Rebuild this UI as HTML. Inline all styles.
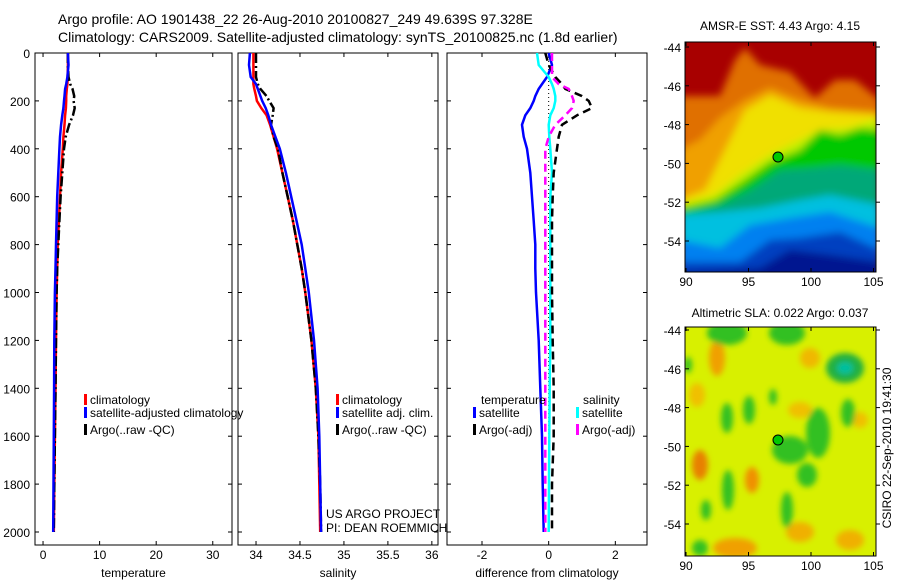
<!DOCTYPE html>
<html><head><meta charset="utf-8">
<style>
body{margin:0;background:#fff;}
svg{display:block;font-family:"Liberation Sans",sans-serif;}
text{fill:#000;}
</style></head>
<body>
<svg id="c" width="900" height="580" viewBox="0 0 900 580">
<defs>
<filter id="bl" x="-10%" y="-10%" width="120%" height="120%"><feGaussianBlur stdDeviation="4"/></filter>
<filter id="bl2" x="-30%" y="-30%" width="160%" height="160%"><feGaussianBlur stdDeviation="3"/></filter>
<clipPath id="m1"><rect x="685" y="42" width="191" height="230"/></clipPath>
<clipPath id="m2"><rect x="685" y="327" width="191" height="229"/></clipPath>
</defs>
<text x="58" y="24" font-size="14">Argo profile: AO 1901438_22 26-Aug-2010 20100827_249 49.639S 97.328E</text>
<text x="58" y="42" font-size="14">Climatology: CARS2009. Satellite-adjusted climatology: synTS_20100825.nc (1.8d earlier)</text>

<!-- SST map -->
<g clip-path="url(#m1)">
<rect x="685" y="42" width="191" height="230" fill="#a80000"/>
<g filter="url(#bl)">
<polygon fill="#e07000" points="680,96 720,96 735,60 745,48 760,65 790,72 805,88 815,98 835,80 855,80 880,100 880,300 680,300"/>
<polygon fill="#f0a000" points="680,150 700,140 720,118 745,100 770,88 800,100 830,108 880,112 880,300 680,300"/>
<polygon fill="#f0e000" points="680,200 705,190 725,150 745,110 770,95 800,108 830,112 880,115 880,300 680,300"/>
<polygon fill="#c0f000" points="680,205 715,195 740,175 770,155 800,140 820,130 850,128 880,118 880,300 680,300"/>
<polygon fill="#00c800" points="680,208 715,200 745,180 770,162 800,150 820,130 840,135 860,128 880,130 880,300 680,300"/>
<polygon fill="#00a878" points="680,215 720,205 750,190 780,170 810,168 840,165 880,170 880,300 680,300"/>
<polygon fill="#00c0e0" points="680,215 720,212 760,208 800,200 830,195 880,205 880,300 680,300"/>
<polygon fill="#0080f0" points="680,240 720,248 750,225 790,218 830,212 880,228 880,300 680,300"/>
<polygon fill="#0040c0" points="680,262 740,262 770,240 800,238 840,232 880,250 880,300 680,300"/>
<polygon fill="#001890" points="680,272 760,268 790,250 830,255 880,262 880,300 680,300"/>
</g>
</g>
<rect x="685" y="42" width="191" height="230" fill="none" stroke="#000"/>
<circle cx="778" cy="157" r="5" fill="#00c800" stroke="#000"/>
<text x="780" y="30" font-size="12" text-anchor="middle">AMSR-E SST: 4.43 Argo: 4.15</text>

<!-- SLA map -->
<g clip-path="url(#m2)">
<rect x="685" y="327" width="191" height="229" fill="#d8f000"/>
<g filter="url(#bl2)">
<ellipse cx="717" cy="358" rx="8" ry="18" fill="#f0a000"/>
<ellipse cx="700" cy="465" rx="8" ry="15" fill="#e88000"/>
<ellipse cx="752" cy="480" rx="7" ry="13" fill="#f09000"/>
<ellipse cx="735" cy="548" rx="22" ry="10" fill="#f0a000"/>
<ellipse cx="810" cy="358" rx="10" ry="10" fill="#f0b800"/>
<ellipse cx="800" cy="410" rx="12" ry="8" fill="#f0c000"/>
<ellipse cx="860" cy="420" rx="8" ry="8" fill="#f0c000"/>
<ellipse cx="800" cy="532" rx="14" ry="10" fill="#f0b000"/>
<ellipse cx="850" cy="540" rx="14" ry="10" fill="#f0b000"/>
<ellipse cx="697" cy="395" rx="8" ry="12" fill="#f0c000"/>
<ellipse cx="727" cy="333" rx="20" ry="12" fill="#30c020"/>
<ellipse cx="787" cy="333" rx="18" ry="12" fill="#30c020"/>
<ellipse cx="845" cy="368" rx="19" ry="15" fill="#20b040"/>
<ellipse cx="845" cy="368" rx="8" ry="6" fill="#00c0a0"/>
<ellipse cx="727" cy="418" rx="6" ry="15" fill="#30c020"/>
<ellipse cx="749" cy="410" rx="6" ry="14" fill="#30c020"/>
<ellipse cx="773" cy="397" rx="4" ry="8" fill="#30c020"/>
<ellipse cx="848" cy="413" rx="7" ry="14" fill="#30c020"/>
<ellipse cx="790" cy="450" rx="18" ry="14" fill="#30c020"/>
<ellipse cx="818" cy="433" rx="12" ry="25" fill="#30c020"/>
<ellipse cx="807" cy="475" rx="10" ry="12" fill="#30c020"/>
<ellipse cx="728" cy="490" rx="6" ry="20" fill="#30c020"/>
<ellipse cx="787" cy="510" rx="6" ry="18" fill="#30c020"/>
<ellipse cx="706" cy="510" rx="5" ry="10" fill="#30c020"/>
<ellipse cx="700" cy="548" rx="8" ry="8" fill="#30c020"/>
<ellipse cx="688" cy="365" rx="4" ry="8" fill="#30c020"/>
</g>
</g>
<rect x="685" y="327" width="191" height="229" fill="none" stroke="#000"/>
<circle cx="778" cy="440" r="5" fill="#00c800" stroke="#000"/>
<text x="780" y="317" font-size="12" text-anchor="middle">Altimetric SLA: 0.022 Argo: 0.037</text>
<text transform="translate(891,448) rotate(-90)" font-size="12" text-anchor="middle">CSIRO 22-Sep-2010 19:41:30</text>
<g id="axes"></g>
</svg>
<script>
// ---- profile data ----
const depthT = [0,50,100,130,150,180,200,230,260,300,350,400,500,600,700,800,900,1000,1200,1400,1600,1800,2000];
const tempClim = [4.4,4.4,4.35,4.3,4.2,4.1,4.1,4.05,3.9,3.8,3.6,3.5,3.2,3.0,2.8,2.6,2.5,2.4,2.3,2.2,2.1,2.0,1.9];
const tempSat  = [4.4,4.5,4.3,4.1,3.9,3.8,3.7,3.6,3.4,3.2,3.0,2.9,2.7,2.5,2.4,2.3,2.2,2.1,2.0,1.95,1.9,1.85,1.8];
const tempArgo = [4.4,4.4,4.5,4.8,5.2,5.5,5.4,5.6,5.3,4.6,4.0,3.7,3.4,3.1,2.9,2.7,2.5,2.4,2.3,2.2,2.1,2.0,1.9];
const salClim = [33.97,33.97,33.97,33.97,33.98,34.0,34.01,34.06,34.12,34.16,34.2,34.24,34.3,34.36,34.42,34.47,34.52,34.56,34.63,34.68,34.71,34.72,34.73];
const salSat  = [33.93,33.92,33.94,34.0,34.02,34.05,34.07,34.11,34.14,34.17,34.22,34.27,34.34,34.4,34.46,34.52,34.56,34.6,34.66,34.7,34.72,34.73,34.74];
const salArgo = [34.0,34.0,34.0,34.02,34.05,34.12,34.15,34.2,34.19,34.17,34.2,34.25,34.3,34.36,34.42,34.47,34.52,34.56,34.63,34.68,34.71,34.73,34.74];
const dTempSat  = [0.0,0.1,-0.05,-0.2,-0.3,-0.4,-0.45,-0.55,-0.7,-0.8,-0.75,-0.65,-0.55,-0.5,-0.45,-0.4,-0.4,-0.38,-0.3,-0.25,-0.2,-0.18,-0.15];
const dSalSat   = [-0.35,-0.3,0.0,0.1,0.15,0.2,0.2,0.15,0.05,0.0,0.02,0.05,0.1,0.05,0.05,0.05,0.05,0.05,0.05,0.03,0.02,0.01,0.0];
const dTempArgo = [-0.1,0.0,0.2,0.4,0.5,1.0,1.2,1.3,0.85,0.4,0.3,0.25,0.15,0.12,0.1,0.1,0.1,0.1,0.12,0.15,0.15,0.1,0.1];
const dSalArgo  = [0.1,0.1,0.1,0.3,0.6,0.7,0.75,0.7,0.5,0.2,0.0,-0.1,-0.1,-0.1,-0.1,-0.1,-0.1,-0.1,-0.1,-0.1,-0.1,-0.1,-0.1];
const depthTicks = [0,200,400,600,800,1000,1200,1400,1600,1800,2000];
const tTicks = [0,10,20,30];
const sTicks = [34,34.5,35,35.5,36];
const dTicks = [-2,0,2];
const mapXTicks = [90,95,100,105];
const mapYTicks = [-44,-46,-48,-50,-52,-54];

const NS='http://www.w3.org/2000/svg';
const g=document.getElementById('axes');
function mk(tag,attrs,parent){const e=document.createElementNS(NS,tag);for(const k in attrs)e.setAttribute(k,attrs[k]);(parent||g).appendChild(e);return e;}
const yD = d => 53 + d*0.2395;
const pTop=53,pBot=545;
const panels=[
 {name:'temperature',x0:35,x1:232,v0:-1.42,v1:33.4,ticks:tTicks,label:'temperature'},
 {name:'salinity',x0:238,x1:438,v0:33.795,v1:36.07,ticks:sTicks,label:'salinity'},
 {name:'difference',x0:447,x1:647,v0:-3.05,v1:2.95,ticks:dTicks,label:'difference from climatology'}
];
panels.forEach(p=>{p.sx=v=>p.x0+(v-p.v0)/(p.v1-p.v0)*(p.x1-p.x0);});
function line(p,vals,color,dash,name,w){
  const pts=vals.map((v,i)=>p.sx(v).toFixed(1)+','+yD(depthT[i]).toFixed(1)).join(' ');
  const e=mk('polyline',{points:pts,fill:'none',stroke:color,'stroke-width':w||2.5});
  if(dash)e.setAttribute('stroke-dasharray',dash);
  
  
}
panels.forEach((p,pi)=>{
  const fr=mk('rect',{x:p.x0,y:pTop,width:p.x1-p.x0,height:pBot-pTop,fill:'none',stroke:'#000'});
  
  
  depthTicks.forEach(d=>{
    const y=yD(d);
    mk('line',{x1:p.x0,y1:y,x2:p.x0+4,y2:y,stroke:'#000'});
    mk('line',{x1:p.x1,y1:y,x2:p.x1-4,y2:y,stroke:'#000'});
    if(pi===0){const t=mk('text',{x:p.x0-5,y:y+5,'font-size':12,'text-anchor':'end'});t.textContent=d;
      
      }
  });
  p.ticks.forEach(v=>{
    const x=p.sx(v);
    mk('line',{x1:x,y1:pBot,x2:x,y2:pBot-4,stroke:'#000'});
    mk('line',{x1:x,y1:pTop,x2:x,y2:pTop+4,stroke:'#000'});
    const t=mk('text',{x:x,y:pBot+14,'font-size':12,'text-anchor':'middle'});t.textContent=v;
    
    
  });
  const lt=mk('text',{x:(p.x0+p.x1)/2,y:577,'font-size':12,'text-anchor':'middle'});lt.textContent=p.label;
  
  
});
const P1=panels[0],P2=panels[1],P3=panels[2];
line(P1,tempClim,'#f00',null,'temp-climatology-line');
line(P1,tempArgo,'#000','10,3,2,3','temp-argo-line');
line(P1,tempSat,'#00f',null,'temp-satellite-line');
line(P2,salClim,'#f00',null,'sal-climatology-line');
line(P2,salArgo,'#000','10,3,2,3','sal-argo-line');
line(P2,salSat,'#00f',null,'sal-satellite-line');
const zl=mk('line',{x1:P3.sx(0),y1:yD(0),x2:P3.sx(0),y2:yD(2000),stroke:'#000','stroke-dasharray':'1,3'});


line(P3,dTempSat,'#00f',null,'diff-temp-satellite-line');
line(P3,dSalSat,'#0ff',null,'diff-sal-satellite-line');
line(P3,dTempArgo,'#000','8,5','diff-temp-argo-line');
line(P3,dSalArgo,'#f0f','8,5','diff-sal-argo-line');

function legend(x,y,color,label,name){
  const r=mk('rect',{x:x,y:y-10,width:3,height:11,fill:color});
  
  
  const t=mk('text',{x:x+6,y:y,'font-size':12});t.textContent=label;
  
  
}
legend(84,404,'#f00','climatology','legend-temp-climatology');
legend(84,417,'#00f','satellite-adjusted climatology','legend-temp-satellite');
legend(84,434,'#000','Argo(..raw -QC)','legend-temp-argo');
legend(336,404,'#f00','climatology','legend-sal-climatology');
legend(336,417,'#00f','satellite adj. clim.','legend-sal-satellite');
legend(336,434,'#000','Argo(..raw -QC)','legend-sal-argo');
(function(){const t=mk('text',{x:481,y:404,'font-size':12});t.textContent='temperature';
 
 
 const s=mk('text',{x:583,y:404,'font-size':12});s.textContent='salinity';
 
 })();
legend(473,417,'#00f','satellite','legend-diff-temp-satellite');
legend(473,434,'#000','Argo(-adj)','legend-diff-temp-argo');
legend(576,417,'#0ff','satellite','legend-diff-sal-satellite');
legend(576,434,'#f0f','Argo(-adj)','legend-diff-sal-argo');
[['US ARGO PROJECT',518],['PI: DEAN ROEMMICH',532]].forEach(([s,y])=>{
  const t=mk('text',{x:326,y:y,'font-size':12});t.textContent=s;
  
  
});
// map ticks
[[42,272,47],[327,556,330]].forEach(([t0,b0,y44])=>{
  const mx=v=>686+(v-90)*12.5, my=v=>y44+(-44-v)*19.4;
  mapXTicks.forEach(v=>{
    mk('line',{x1:mx(v),y1:b0,x2:mx(v),y2:b0-4,stroke:'#000'});
    mk('line',{x1:mx(v),y1:t0,x2:mx(v),y2:t0+4,stroke:'#000'});
    const t=mk('text',{x:mx(v),y:b0+14,'font-size':12,'text-anchor':'middle'});t.textContent=v;
    
    
  });
  mapYTicks.forEach(v=>{
    mk('line',{x1:685,y1:my(v),x2:689,y2:my(v),stroke:'#000'});
    mk('line',{x1:876,y1:my(v),x2:880,y2:my(v),stroke:'#000'});
    const t=mk('text',{x:681,y:my(v)+5,'font-size':12,'text-anchor':'end'});t.textContent=v;
    
    
  });
});
</script>
</body></html>
